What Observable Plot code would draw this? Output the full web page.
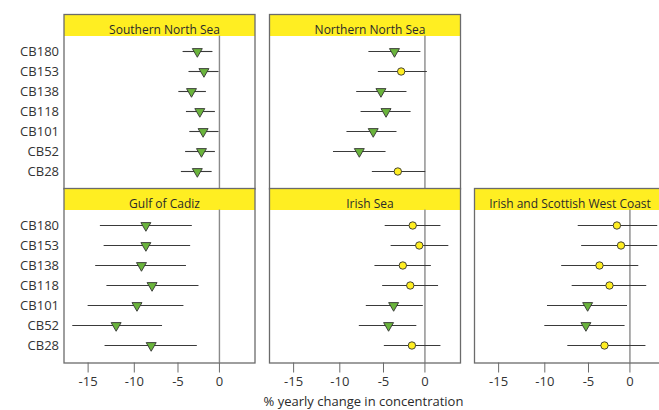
<!DOCTYPE html>
<html>
<head>
<meta charset="utf-8">
<script src="https://cdn.jsdelivr.net/npm/d3@7"></script>
<script src="https://cdn.jsdelivr.net/npm/@observablehq/plot@0.6"></script>
<style>
  body { margin: 0; background: #fff; }
  #chart { position: relative; width: 659px; height: 410px; overflow: hidden; font-family: "Open Sans", sans-serif; }
  #chart > div { position: absolute; }
</style>
</head>
<body>
<div id="chart"></div>
<script>
// PCB congeners, top to bottom
const congeners = ["CB180", "CB153", "CB138", "CB118", "CB101", "CB52", "CB28"];

// Estimated % yearly change in concentration with lower / upper confidence limits
const snsEst  = [-2.7, -1.9, -3.4, -2.4, -2.0, -2.2, -2.7];
const snsLow  = [-4.4, -3.7, -4.9, -4.0, -3.6, -4.1, -4.6];
const snsHigh = [-0.8, -0.05, -1.6, -0.5, -0.05, -0.5, -0.9];

const nnsEst  = [-3.7, -2.9, -5.3, -4.7, -6.2, -7.8, -3.3];
const nnsLow  = [-6.7, -5.6, -8.1, -7.6, -9.2, -10.7, -6.3];
const nnsHigh = [-0.5, 0.3, -2.2, -1.7, -3.4, -4.7, 0.1];

const gocEst  = [-8.7, -8.7, -9.2, -8.0, -9.7, -12.0, -8.1];
const gocLow  = [-13.7, -13.3, -14.2, -13.0, -15.0, -16.6, -13.2];
const gocHigh = [-3.3, -3.5, -4.0, -2.5, -4.3, -6.8, -2.7];

const irsEst  = [-1.5, -0.7, -2.7, -1.8, -3.8, -4.4, -1.6];
const irsLow  = [-4.8, -4.1, -6.0, -5.1, -7.0, -7.8, -4.9];
const irsHigh = [2.0, 3.0, 0.8, 1.7, -0.2, -1.0, 2.0];

const iswEst  = [-1.6, -1.1, -3.7, -2.5, -5.1, -5.3, -3.1];
const iswLow  = [-6.2, -5.8, -8.1, -6.9, -9.7, -10.0, -7.4];
const iswHigh = [3.5, 3.5, 1.1, 2.1, -0.3, -0.6, 2.0];

const regionNames = ["Southern North Sea", "Northern North Sea", "Gulf of Cadiz", "Irish Sea", "Irish and Scottish West Coast"];
const tickValues = [-15, -10, -5, 0];
const axisTitle = "% yearly change in concentration";

// Panel grid (column, row) for each region
const regions = [
  {name: regionNames[0], est: snsEst, low: snsLow, high: snsHigh, col: 0, row: 0},
  {name: regionNames[1], est: nnsEst, low: nnsLow, high: nnsHigh, col: 1, row: 0},
  {name: regionNames[2], est: gocEst, low: gocLow, high: gocHigh, col: 0, row: 1},
  {name: regionNames[3], est: irsEst, low: irsLow, high: irsHigh, col: 1, row: 1},
  {name: regionNames[4], est: iswEst, low: iswLow, high: iswHigh, col: 2, row: 1}
];

const FONT = "'Open Sans', sans-serif";
const HEADER = 21.5, DATA_H = 153, PANEL_W = 191;
const COL_LEFT = [63.5, 268.5, 473.5];
const ROW_TOP = [13.5, 188];
const STRIP = "#ffee22", GREEN = "#6ab43c", YELLOW = "#ffee22";
const FRAME = "#6b6b6b";

// Changes are multiplicative: position along x is the log of the yearly ratio (1 + % / 100)
const lr = p => Math.log1p(p / 100);
const pct = v => String(Math.round(100 * Math.expm1(v)));

// Downward-pointing triangle, centred on its centroid
const triangleDown = {
  draw(context, size) {
    const y = Math.sqrt(size / (3 * Math.sqrt(3)));
    context.moveTo(0, 2 * y);
    context.lineTo(-Math.sqrt(3) * y, -y);
    context.lineTo(Math.sqrt(3) * y, -y);
    context.closePath();
  }
};

const chart = document.getElementById("chart");

for (const reg of regions) {
  const rows = congeners.map((c, i) => ({congener: c, est: reg.est[i], low: reg.low[i], high: reg.high[i]}));
  const isLeft = reg.col === 0, isBottom = reg.row === 1;
  const ml = isLeft ? 63.5 : 2, mr = 2, mt = 2 + HEADER, mb = isBottom ? 48 : 2;
  const width = ml + PANEL_W + mr, height = mt + DATA_H + mb;

  const plot = Plot.plot({
    width, height,
    marginLeft: ml, marginRight: mr, marginTop: mt, marginBottom: mb,
    style: {background: "transparent", overflow: "visible", maxWidth: "none", fontFamily: FONT, color: "#333"},
    x: {type: "linear", domain: [lr(-17.5), lr(4.5)], axis: null, label: null},
    y: {type: "point", domain: congeners, padding: 0, insetTop: 14, insetBottom: 16, axis: null, label: null},
    marks: [
      Plot.frame({fill: STRIP, insetTop: -HEADER, insetBottom: DATA_H}),
      Plot.text([reg.name], {text: d => d, frameAnchor: "top", dy: -HEADER / 2, dx: reg.col < 2 ? 5 : 0, fontSize: 12, fill: "#2a2a2a"}),
      Plot.ruleX([0], {x: lr, stroke: "#8a8a8a", strokeWidth: 1.4}),
      Plot.ruleY(rows, {y: "congener", x1: d => lr(d.low), x2: d => lr(d.high), stroke: "#3a3a3a", strokeWidth: 1.1}),
      Plot.dot(rows.filter(d => d.high >= 0), {x: d => lr(d.est), y: "congener", r: 3.7, fill: YELLOW, stroke: "#333", strokeWidth: 0.9}),
      Plot.dot(rows.filter(d => d.high < 0), {x: d => lr(d.est), y: "congener", symbol: triangleDown, r: 3.7, fill: GREEN, stroke: "#333", strokeWidth: 0.9}),
      Plot.frame({stroke: FRAME, strokeWidth: 1.3, insetTop: -HEADER}),
      isLeft ? Plot.axisY({tickSize: 0, tickPadding: 5, fontSize: 13, label: null}) : null,
      isBottom ? Plot.axisX(tickValues.map(lr), {tickSize: 10, tickPadding: 4, tickFormat: pct, fontSize: 13, stroke: FRAME, label: null}) : null,
      isBottom && reg.col === 1 ? Plot.text([axisTitle], {text: d => d, frameAnchor: "bottom", lineAnchor: "bottom", dy: 42.5, dx: -1.5, fontSize: 13, fill: "#2a2a2a"}) : null
    ]
  });

  const holder = document.createElement("div");
  holder.style.left = (COL_LEFT[reg.col] - ml) + "px";
  holder.style.top = (ROW_TOP[reg.row] - mt + HEADER) + "px";
  holder.style.width = width + "px";
  holder.appendChild(plot);
  chart.appendChild(holder);
}
</script>
</body>
</html>
